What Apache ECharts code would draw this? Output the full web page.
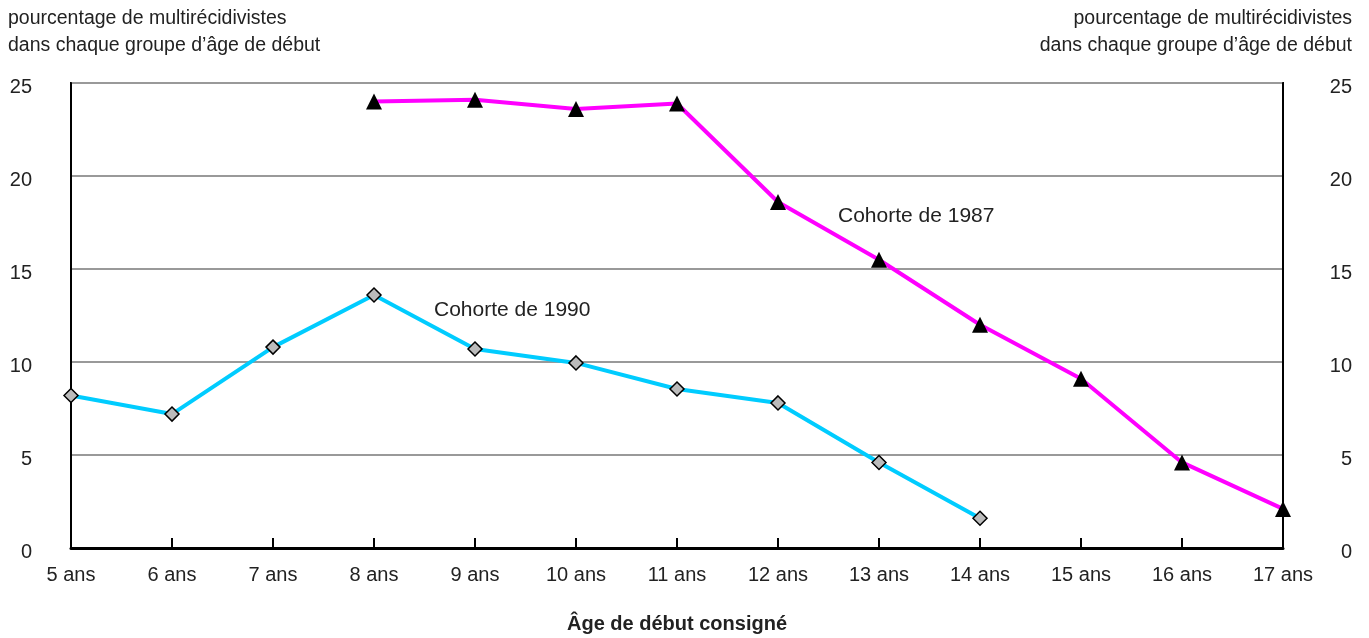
<!DOCTYPE html>
<html>
<head>
<meta charset="utf-8">
<script src="https://cdn.jsdelivr.net/npm/echarts@6/dist/echarts.min.js"></script>
<style>
  html, body { margin: 0; padding: 0; background: #fff; overflow: hidden; }
  #chart { width: 1369px; height: 638px; }
</style>
</head>
<body>
<div id="chart"></div>
<script>
// Age at first recorded offence
const categories = ['5 ans', '6 ans', '7 ans', '8 ans', '9 ans', '10 ans', '11 ans', '12 ans', '13 ans', '14 ans', '15 ans', '16 ans', '17 ans'];
// Share of chronic offenders (%) per starting-age group
const cohort1990 = [8.2, 7.2, 10.8, 13.6, 10.7, 9.95, 8.55, 7.8, 4.6, 1.6, null, null, null];
const cohort1987 = [null, null, null, 24.0, 24.1, 23.6, 23.9, 18.6, 15.5, 12.0, 9.1, 4.6, 2.1];
const yTicks = [0, 5, 10, 15, 20, 25];

const FONT = '"Liberation Sans Narrow", "Liberation Sans", Arial, sans-serif';
const TEXT = '#222';
const FS = 20;
const AXIS_TITLE = 'pourcentage de multirécidivistes\ndans chaque groupe d’âge de début';

const chart = echarts.init(document.getElementById('chart'), null, { renderer: 'canvas' });

const yAxisBase = {
  type: 'value',
  min: yTicks[0],
  max: yTicks[yTicks.length - 1],
  interval: 5,
  axisLine: { show: true, lineStyle: { color: '#000', width: 2 } },
  axisTick: { show: false },
  splitLine: { show: true, lineStyle: { color: '#999', width: 2 } },
  // labels sit slightly below their gridline
  axisLabel: { color: TEXT, fontFamily: FONT, fontSize: FS, verticalAlign: 'top', lineHeight: 8 }
};

chart.setOption({
  animation: false,
  grid: {
    left: 71, right: 86, top: 83, bottom: 90,
    outerBoundsMode: 'none', containLabel: false,
    show: true, borderColor: '#000', borderWidth: 2, backgroundColor: 'transparent'
  },
  xAxis: {
    type: 'category',
    data: categories,
    boundaryGap: false,
    axisLine: { show: true, lineStyle: { color: '#000', width: 3 } },
    axisTick: { show: true, inside: true, length: 10, lineStyle: { color: '#000', width: 2 } },
    axisLabel: { color: TEXT, fontFamily: FONT, fontSize: FS, margin: 17 },
    name: 'Âge de début consigné',
    nameLocation: 'middle',
    nameGap: 66,
    nameTextStyle: { color: TEXT, fontFamily: FONT, fontSize: FS, fontWeight: 'bold' }
  },
  yAxis: [
    Object.assign({}, yAxisBase, { position: 'left', axisLabel: Object.assign({}, yAxisBase.axisLabel, { margin: 39 }) }),
    Object.assign({}, yAxisBase, { position: 'right', splitLine: { show: false },
      axisLabel: Object.assign({}, yAxisBase.axisLabel, { margin: 69, align: 'right' }) })
  ],
  series: [
    {
      name: 'Cohorte de 1990',
      type: 'line',
      data: cohort1990,
      symbol: 'diamond',
      symbolSize: 14,
      lineStyle: { color: '#00CCFF', width: 4 },
      itemStyle: { color: '#BBBBBB', borderColor: '#000', borderWidth: 1.5 },
      z: 3
    },
    {
      name: 'Cohorte de 1987',
      type: 'line',
      data: cohort1987,
      symbol: 'triangle',
      symbolSize: 16,
      lineStyle: { color: '#FF00FF', width: 4 },
      itemStyle: { color: '#000', borderColor: '#000', borderWidth: 0 },
      z: 3
    }
  ],
  graphic: [
    { type: 'text', x: 8, y: 5, style: { text: AXIS_TITLE, fill: TEXT, font: '19.5px ' + FONT, lineHeight: 27 } },
    { type: 'text', x: 1352, y: 5, style: { text: AXIS_TITLE, fill: TEXT, font: '19.5px ' + FONT, lineHeight: 27, align: 'right' } },
    { type: 'text', x: 434, y: 310, style: { text: 'Cohorte de 1990', fill: TEXT, font: '21px ' + FONT, verticalAlign: 'middle' } },
    { type: 'text', x: 838, y: 216, style: { text: 'Cohorte de 1987', fill: TEXT, font: '21px ' + FONT, verticalAlign: 'middle' } }
  ]
});
</script>
</body>
</html>
